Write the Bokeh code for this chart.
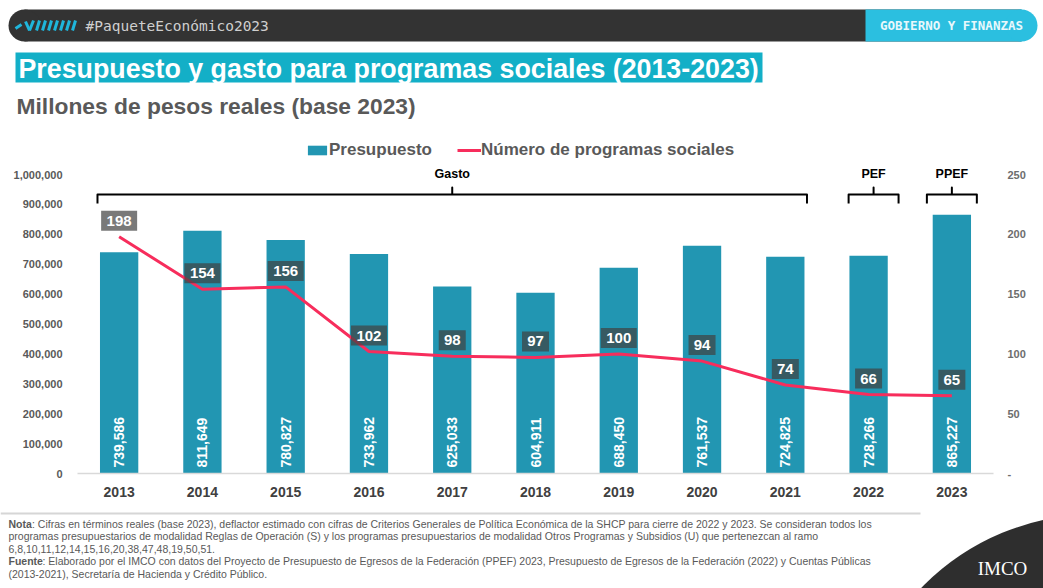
import math
from bokeh.plotting import figure
from bokeh.models import (ColumnDataSource, FactorRange, Range1d, LinearAxis, FixedTicker,
                          NumeralTickFormatter, CustomJSTickFormatter, LabelSet, Legend, LegendItem)
from bokeh.layouts import column
from bokeh.core.properties import value
from bokeh.embed import file_html
from bokeh.resources import INLINE

# ---------------- data ----------------
years = ["2013", "2014", "2015", "2016", "2017", "2018", "2019", "2020", "2021", "2022", "2023"]
presupuesto = [739586, 811649, 780827, 733962, 625033, 604911, 688450, 761537, 724825, 728266, 865227]
programas = [198, 154, 156, 102, 98, 97, 100, 94, 74, 66, 65]
left_ticks = [0, 100000, 200000, 300000, 400000, 500000, 600000, 700000, 800000, 900000, 1000000]
right_ticks = [0, 50, 100, 150, 200, 250]
bracket_names = ["Gasto", "PEF", "PPEF"]
bracket_start = ["2013", "2022", "2023"]
bracket_mid = ["2017", "2022", "2023"]
bracket_end = ["2021", "2022", "2023"]

header_tag = "#PaqueteEconómico2023"
header_section = "GOBIERNO Y FINANZAS"
title_text = "Presupuesto y gasto para programas sociales (2013-2023)"
subtitle_text = "Millones de pesos reales (base 2023)"
legend_labels = ["Presupuesto", "Número de programas sociales"]
note_lines = [
    ": Cifras en términos reales (base 2023), deflactor estimado con cifras de Criterios Generales de Política Económica de la SHCP para cierre de 2022 y 2023. Se consideran todos los",
    "programas presupuestarios de modalidad Reglas de Operación (S) y los programas presupuestarios de modalidad Otros Programas y Subsidios (U) que pertenezcan al ramo",
    "6,8,10,11,12,14,15,16,20,38,47,48,19,50,51.",
    ": Elaborado por el IMCO con datos del Proyecto de Presupuesto de Egresos de la Federación (PPEF) 2023, Presupuesto de Egresos de la Federación (2022) y Cuentas Públicas",
    "(2013-2021), Secretaría de Hacienda y Crédito Público.",
]

# ---------------- styles ----------------
W = 1043
FONT = "Liberation Sans"
MONO = "DejaVu Sans Mono"
BAR = "#2296b2"
LINE = "#f72d5c"
GRAY = "#595959"
DARK = "#333333"
CYAN = "#2bbfe0"
TITLE_BG = "#13afc7"


def canvas(height, y_top, y_bottom):
    p = figure(width=W, height=height, x_range=Range1d(0, W), y_range=Range1d(y_bottom, y_top),
               output_backend="svg", toolbar_location=None, min_border=0,
               min_border_left=0, min_border_right=0, min_border_top=0, min_border_bottom=0,
               x_axis_type=None, y_axis_type=None, outline_line_color=None, frame_align=False)
    p.background_fill_color = "white"
    p.border_fill_color = "white"
    return p


# ---------------- top block ----------------
top = canvas(140, 0, 140)
top.quad(left=[24], right=[1021], top=[9], bottom=[41], fill_color=DARK, line_color=None)
top.circle(x=[24], y=[25], radius=16, fill_color=DARK, line_color=None)
top.quad(left=[865], right=[1021], top=[9], bottom=[41], fill_color=CYAN, line_color=None)
top.circle(x=[1021], y=[25], radius=16, fill_color=CYAN, line_color=None)
# small logo strokes
top.segment(x0=[15, 25, 29, 36, 42, 48, 54, 60, 66, 72],
            y0=[28, 21, 30, 30, 30, 30, 30, 30, 30, 30],
            x1=[21, 29, 33, 39, 45, 51, 57, 63, 69, 75],
            y1=[24, 30, 20, 20, 20, 20, 20, 20, 20, 20],
            line_color="#1fb6dc", line_width=3)
top.text(x=[85], y=[25], text=[header_tag], text_font=value(MONO), text_font_size="14.5px",
         text_color="#cfcfcf", text_baseline="middle")
top.text(x=[951], y=[25], text=[header_section], text_font=value(MONO), text_font_size="12.5px",
         text_font_style="bold", text_color="#e8f8fc", text_baseline="middle", text_align="center")
top.quad(left=[15], right=[762], top=[52], bottom=[82], fill_color=TITLE_BG, line_color=None)
top.text(x=[18], y=[68], text=[title_text], text_font=value(FONT), text_font_size="26.8px",
         text_font_style="bold", text_color="white", text_baseline="middle")
top.text(x=[16], y=[105], text=[subtitle_text], text_font=value(FONT), text_font_size="22.8px",
         text_font_style="bold", text_color=GRAY, text_baseline="middle")

# ---------------- chart ----------------
frame_px = 473 - 140           # frame height in px
scale_px = 473 - 174           # px from 0 to 1,000,000
y_end = 1000000 * frame_px / scale_px
n_end = 250 * frame_px / scale_px
lift = 16 * 250 / scale_px     # label boxes sit 16px above the line points

src = ColumnDataSource(dict(
    year=years,
    presupuesto=presupuesto,
    programas=programas,
    bar_label=[f"{v:,}" for v in presupuesto],
    prog_label=[str(v) for v in programas],
    box_y=[v + lift for v in programas],
    box_w=[9 * len(str(v)) + 9 for v in programas],
))

chart = figure(width=W, height=365, x_range=FactorRange(factors=years), y_range=Range1d(0, y_end),
               output_backend="svg", toolbar_location=None,
               min_border_left=77, min_border_right=50, min_border_top=0, min_border_bottom=32,
               outline_line_color=None, frame_align=False)
chart.extra_y_ranges = {"n": Range1d(0, n_end)}
chart.xgrid.visible = False
chart.ygrid.visible = False
chart.background_fill_color = "white"

bars = chart.vbar(x="year", top="presupuesto", width=0.46, source=src, fill_color=BAR, line_color=None)
line = chart.line(x="year", y="programas", y_range_name="n", source=src, line_color=LINE, line_width=3)
chart.rect(x="year", y="box_y", width="box_w", width_units="screen", height=20, height_units="screen",
           y_range_name="n", source=src, fill_color="#404040", fill_alpha=0.7, line_color=None)

chart.add_layout(LabelSet(x="year", y=0, text="bar_label", source=src, angle=math.pi / 2,
                          text_align="left", text_baseline="middle", y_offset=6,
                          text_font=value(FONT), text_font_size="14px", text_font_style="bold",
                          text_color="white"))
chart.add_layout(LabelSet(x="year", y="box_y", y_range_name="n", text="prog_label", source=src,
                          text_align="center", text_baseline="middle",
                          text_font=value(FONT), text_font_size="15px", text_font_style="bold",
                          text_color="white"))

# brackets
hook_y, line_y, tick_y, lab_y = 903000, 933000, 956500, 1003300
lo_off = [-0.26, -0.24, -0.30]
hi_off = [0.26, 0.36, 0.30]
label_x = []
for name, s, m, e, lo, hi in zip(bracket_names, bracket_start, bracket_mid, bracket_end, lo_off, hi_off):
    mid = (m, (lo + hi) / 2) if s == e else (m, 0.0)
    label_x.append(mid)
    chart.line(x=[(s, lo), (s, lo), mid, mid, mid, (e, hi), (e, hi)],
               y=[hook_y, line_y, line_y, tick_y, line_y, line_y, hook_y],
               line_color="black", line_width=2, line_join="round")
chart.text(x=label_x, y=[lab_y] * 3, text=bracket_names, text_font=value(FONT), text_font_size="12.5px",
           text_font_style="bold", text_color="black", text_align="center", text_baseline="middle")

# axes
yl = chart.yaxis[0]
yl.ticker = FixedTicker(ticks=left_ticks)
yl.formatter = NumeralTickFormatter(format="0,0")
yr = LinearAxis(y_range_name="n", ticker=FixedTicker(ticks=right_ticks),
                formatter=CustomJSTickFormatter(code="return tick == 0 ? '-' : tick.toFixed(0);"))
chart.add_layout(yr, "right")
for ax, col, st in ((yl, GRAY, 9), (yr, "#6d6d6d", 8)):
    ax.axis_line_color = None
    ax.major_tick_line_color = None
    ax.minor_tick_line_color = None
    ax.major_label_text_font = FONT
    ax.major_label_text_font_size = "11px"
    ax.major_label_text_font_style = "bold"
    ax.major_label_text_color = col
    ax.major_label_standoff = st

xa = chart.xaxis[0]
xa.axis_line_color = "#d9d9d9"
xa.axis_line_width = 1.5
xa.major_tick_line_color = None
xa.minor_tick_line_color = None
xa.major_label_text_font = FONT
xa.major_label_text_font_size = "14px"
xa.major_label_text_font_style = "bold"
xa.major_label_text_color = "#404040"
xa.major_label_standoff = 7

legend = Legend(items=[LegendItem(label=legend_labels[0], renderers=[bars]),
                       LegendItem(label=legend_labels[1], renderers=[line])],
                orientation="horizontal", location=(228, 313),
                border_line_color=None, background_fill_alpha=0, padding=0, margin=0,
                spacing=25, glyph_width=24, glyph_height=12, label_standoff=0,
                label_text_font=FONT, label_text_font_size="17px", label_text_font_style="bold",
                label_text_color=GRAY, label_height=18)
chart.add_layout(legend)

# ---------------- bottom block ----------------
bottom = canvas(83, 505, 588)
bottom.line(x=[0, 920], y=[513, 513], line_color="#d6d6d6", line_width=2)
bottom.circle(x=[1094], y=[755], radius=241, fill_color="#2e2e2e", line_color=None)
bottom.text(x=[1002], y=[568], text=["IMCO"], text_font=value("Liberation Serif"), text_font_size="19px",
            text_color="white", text_align="center", text_baseline="middle")

note_y = [523, 535.5, 548, 560.5, 573]
bold_rows = {0: ("Nota", 23.5), 3: ("Fuente", 34.0)}
for i, (txt, yy) in enumerate(zip(note_lines, note_y)):
    x0 = 8
    if i in bold_rows:
        b, bw = bold_rows[i]
        bottom.text(x=[x0], y=[yy], text=[b], text_font=value(FONT), text_font_size="10.5px",
                    text_font_style="bold", text_color=GRAY, text_baseline="middle")
        x0 += bw
    bottom.text(x=[x0], y=[yy], text=[txt], text_font=value(FONT), text_font_size="10.5px",
                text_color=GRAY, text_baseline="middle")

layout = column(top, chart, bottom, spacing=0)
open("out.html", "w").write(file_html(layout, INLINE))
